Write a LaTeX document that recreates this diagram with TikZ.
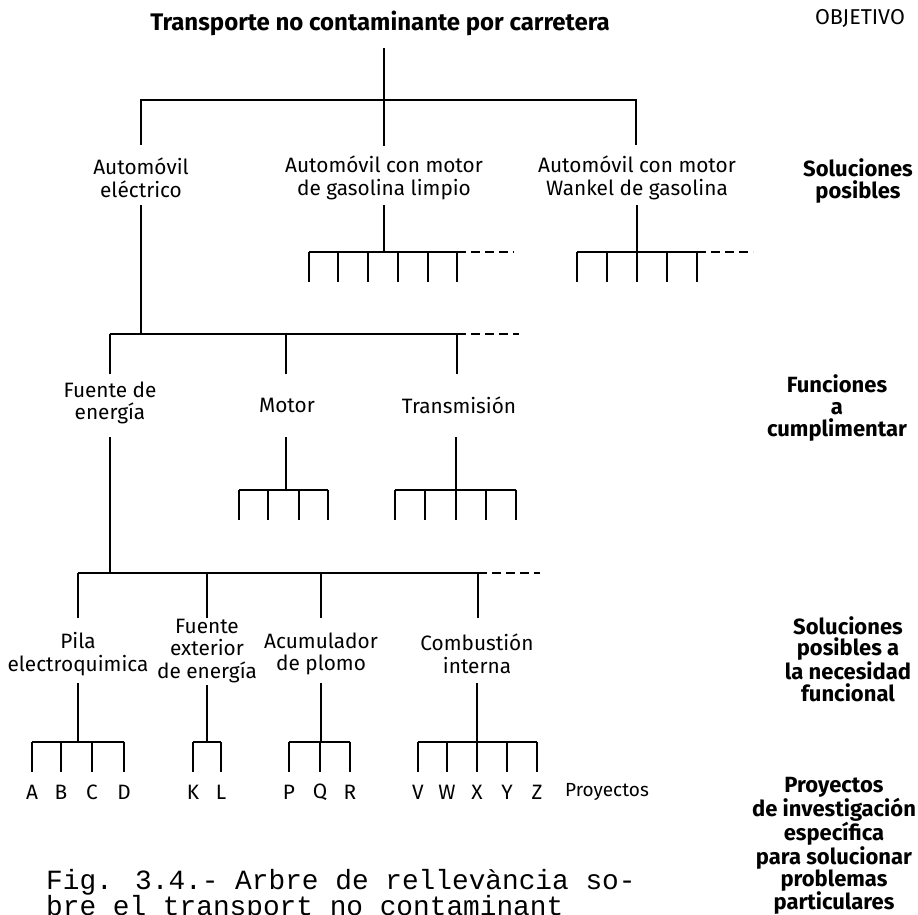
\documentclass[tikz,border=0pt]{standalone}
\usepackage{fontspec}
\setmainfont{Fira Sans}
\newfontfamily\typewriter{Liberation Mono}
\begin{document}
\begin{tikzpicture}[x=1pt,y=-1pt,
  treeline/.style={line width=2.6pt},
  openend/.style={line width=2.6pt, dash pattern=on 9pt off 5pt},
  lbl/.style={align=center, inner sep=0pt, font=\fontsize{20.8}{22.5}\selectfont},
  lvl/.style={align=center, inner sep=0pt, font=\bfseries\fontsize{22}{21.6}\selectfont},
  headline/.style={inner sep=0pt, font=\bfseries\fontsize{24}{26}\selectfont},
  letter/.style={inner sep=0pt, font=\fontsize{20.8}{22}\selectfont},
  note/.style={inner sep=0pt, font=\fontsize{19}{20}\selectfont},
  captionline/.style={inner sep=0pt, anchor=base west, font=\typewriter\fontsize{27.8}{24}\selectfont},
]
\useasboundingbox (0,0) rectangle (918,915);

% rake: name, y of bar, y of tooth ends, x positions of teeth
\newcommand\treerake[4]{%
  \foreach \xx [count=\i] in {#4} {
    \coordinate (#1-\i) at (\xx,#2);
    \coordinate (#1-\i-end) at (\xx,#3);
    \draw[treeline] (#1-\i) -- (#1-\i-end);
  }%
}

% ---------- objective ----------
\node[headline] (title) at (380,23) {Transporte no contaminante por carretera};
\node[lbl, font=\fontsize{21.5}{22}\selectfont] (objetivo) at (860,18) {OBJETIVO};

\coordinate (t0) at (384,48);
\coordinate (j0) at (384,100);
\coordinate (j0l) at (141,100);
\coordinate (j0r) at (636,100);
\coordinate (a1t) at (141,145);
\coordinate (a2t) at (384,146);
\coordinate (a3t) at (636,145);
\draw[treeline] (t0) -- (a2t);
\draw[treeline] (a1t) -- (j0l) -- (j0r) -- (a3t);

% ---------- possible solutions ----------
\node[lbl] (elec) at (141,178) {Automóvil\\eléctrico};
\node[lbl] (gas) at (384,178) {Automóvil con motor\\de gasolina limpio};
\node[lbl] (wankel) at (637,178) {Automóvil con motor\\Wankel de gasolina};
\node[lvl] (sol1) at (858,181) {Soluciones\\posibles};

% gasoline engine rake
\coordinate (a2b) at (384,205);
\coordinate (a2j) at (384,252);
\draw[treeline] (a2b) -- (a2j);
\treerake{gr}{252}{282}{309,338,368,398,428,457}
\draw[treeline] (gr-1) -- (gr-6);
\coordinate (gr-more) at (514,252);
\draw[openend] (gr-6) -- (gr-more);

% Wankel rake
\coordinate (a3b) at (637,205);
\coordinate (a3j) at (637,252);
\draw[treeline] (a3b) -- (a3j);
\treerake{wr}{252}{282}{577,607,637,667,697}
\draw[treeline] (wr-1) -- (wr-5);
\coordinate (wr-more) at (753,252);
\draw[openend] (wr-5) -- (wr-more);

% electric car branch
\coordinate (a1b) at (141,205);
\coordinate (j1) at (141,334);
\coordinate (j1l) at (110,334);
\coordinate (j1m) at (286,334);
\coordinate (j1r) at (457,334);
\coordinate (j1more) at (519,334);
\draw[treeline] (a1b) -- (j1);
\draw[treeline] (j1l) -- (j1r);
\draw[openend] (j1r) -- (j1more);
\coordinate (f1t) at (110,374);
\coordinate (f2t) at (286,374);
\coordinate (f3t) at (457,374);
\draw[treeline] (j1l) -- (f1t);
\draw[treeline] (j1m) -- (f2t);
\draw[treeline] (j1r) -- (f3t);

% ---------- functions ----------
\node[lbl] (fuente) at (110,403) {Fuente de\\energía};
\node[lbl] (motor) at (287,405) {Motor};
\node[lbl] (trans) at (459,405) {Transmisión};
\node[lvl] (func) at (837,408) {Funciones\\a\\cumplimentar};

% motor rake
\coordinate (f2b) at (286,437);
\coordinate (f2j) at (286,490);
\draw[treeline] (f2b) -- (f2j);
\treerake{mr}{490}{520}{239,268,299,328}
\draw[treeline] (mr-1) -- (mr-4);

% transmission rake
\coordinate (f3b) at (456,437);
\coordinate (f3j) at (456,490);
\draw[treeline] (f3b) -- (f3j);
\treerake{tr}{490}{520}{395,425,456,486,516}
\draw[treeline] (tr-1) -- (tr-5);

% energy source branch
\coordinate (f1b) at (110,437);
\coordinate (j2) at (110,573);
\coordinate (j2a) at (78,573);
\coordinate (j2b) at (207,573);
\coordinate (j2c) at (321,573);
\coordinate (j2d) at (478,573);
\coordinate (j2more) at (540,573);
\draw[treeline] (f1b) -- (j2);
\draw[treeline] (j2a) -- (j2d);
\draw[openend] (j2d) -- (j2more);
\coordinate (s1t) at (78,618);
\coordinate (s2t) at (207,618);
\coordinate (s3t) at (321,618);
\coordinate (s4t) at (478,618);
\draw[treeline] (j2a) -- (s1t);
\draw[treeline] (j2b) -- (s2t);
\draw[treeline] (j2c) -- (s3t);
\draw[treeline] (j2d) -- (s4t);

% ---------- solutions to the functional need ----------
\node[lbl] (pila) at (78,654) {Pila\\electroquimica};
\node[lbl] (ext) at (207,651) {Fuente\\exterior\\de energía};
\node[lbl] (acum) at (321,654) {Acumulador\\de plomo};
\node[lbl] (combu) at (477,654) {Combustión\\interna};
\node[lvl] (sol3) at (848,659) {Soluciones\\posibles a\\la necesidad\\funcional};

% project rakes
\coordinate (s1b) at (78,683);
\coordinate (s1j) at (78,742);
\draw[treeline] (s1b) -- (s1j);
\treerake{pr}{742}{772}{32,61,92,124}
\draw[treeline] (pr-1) -- (pr-4);

\coordinate (s2b) at (207,685);
\coordinate (s2j) at (207,742);
\draw[treeline] (s2b) -- (s2j);
\treerake{kr}{742}{772}{193,221}
\draw[treeline] (kr-1) -- (kr-2);

\coordinate (s3b) at (321,683);
\coordinate (s3j) at (321,742);
\draw[treeline] (s3b) -- (s3j);
\treerake{qr}{742}{772}{289,320,350}
\draw[treeline] (qr-1) -- (qr-3);

\coordinate (s4b) at (477,683);
\coordinate (s4j) at (477,742);
\draw[treeline] (s4b) -- (s4j);
\treerake{vr}{742}{772}{418,447,477,507,537}
\draw[treeline] (vr-1) -- (vr-5);

% ---------- projects ----------
\node[letter] (pA) at (32,792) {A};
\node[letter] (pB) at (61,792) {B};
\node[letter] (pC) at (92,792) {C};
\node[letter] (pD) at (124,792) {D};
\node[letter] (pK) at (193,792) {K};
\node[letter] (pL) at (221,792) {L};
\node[letter] (pP) at (289,792) {P};
\node[letter] (pQ) at (320,792) {Q};
\node[letter] (pR) at (350,792) {R};
\node[letter] (pV) at (418,792) {V};
\node[letter] (pW) at (447,792) {W};
\node[letter] (pX) at (477,792) {X};
\node[letter] (pY) at (507,792) {Y};
\node[letter] (pZ) at (537,792) {Z};
\node[note] (proyectos) at (607,792) {Proyectos};
\node[lvl] (investig) at (834,846) {Proyectos\\de investigación\\específica\\para solucionar\\problemas\\particulares};

% ---------- caption (second line runs off the page foot) ----------
\node[captionline] (cap1) at (46,889) {Fig. 3.4.- Arbre de rellevància so-};
\node[captionline] (cap2) at (46,915) {bre el transport no contaminant};
\end{tikzpicture}
\end{document}
